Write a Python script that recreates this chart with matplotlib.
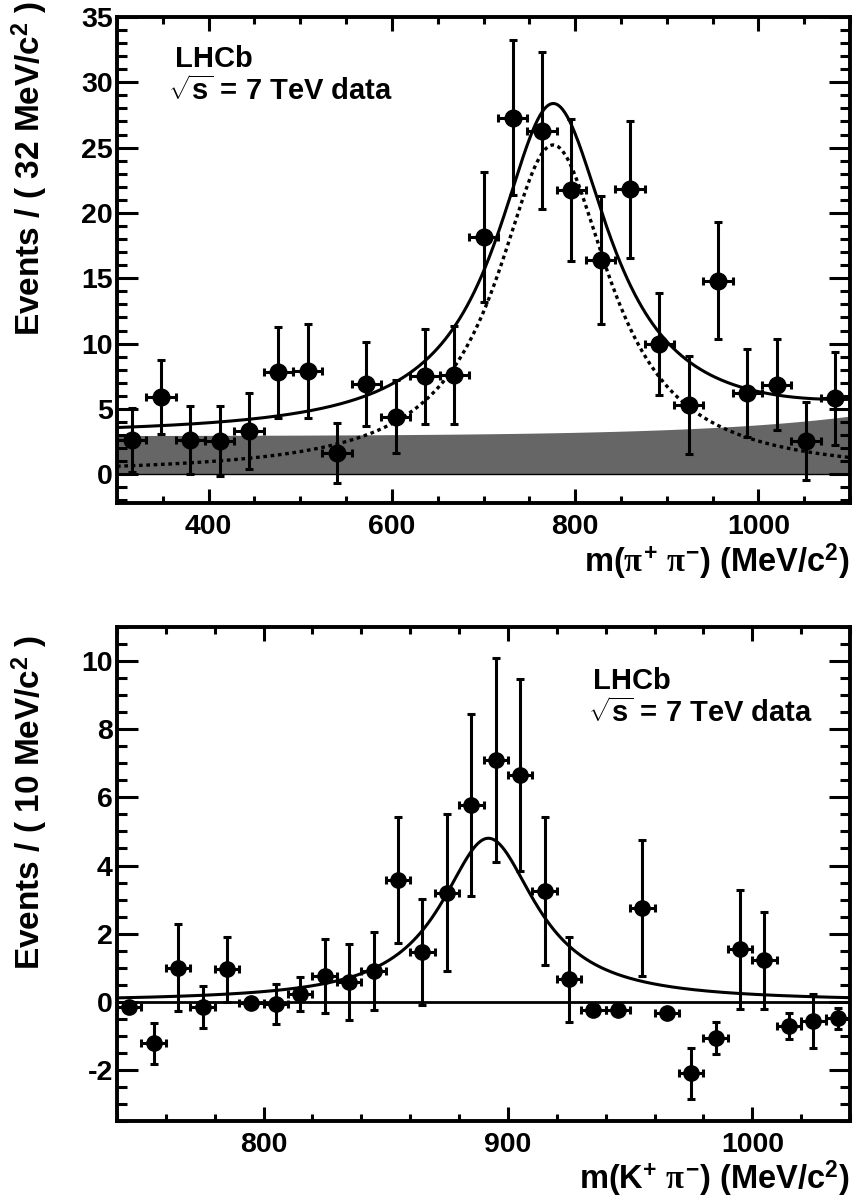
import matplotlib
matplotlib.use('Agg')

import numpy as np
import matplotlib.pyplot as plt
from matplotlib.ticker import MultipleLocator

# ROOT-like style
plt.rcParams['font.family'] = ['Liberation Sans', 'DejaVu Sans']
plt.rcParams['font.weight'] = 'bold'
plt.rcParams['axes.unicode_minus'] = False
plt.rcParams['mathtext.fontset'] = 'custom'
plt.rcParams['mathtext.rm'] = 'Liberation Sans:bold'
plt.rcParams['mathtext.bf'] = 'Liberation Sans:bold'
plt.rcParams['mathtext.it'] = 'Liberation Serif'   # thin greek letters like ROOT symbol font

## pi+ pi- spectrum (32 MeV bins)
pipi_mass = [316, 348, 380, 412, 444, 476, 508, 540, 572, 604, 636, 668, 700,
             732, 764, 796, 828, 860, 892, 924, 956, 988, 1020, 1052, 1084]
pipi_events = [2.6, 5.9, 2.65, 2.55, 3.3, 7.8, 7.9, 1.65, 6.9, 4.4, 7.5, 7.6, 18.15,
               27.3, 26.3, 21.75, 16.4, 21.8, 9.95, 5.3, 14.8, 6.2, 6.85, 2.55, 5.8]
pipi_err = [2.45, 2.82, 2.6, 2.7, 2.9, 3.5, 3.57, 2.3, 3.2, 2.8, 3.62, 3.77, 4.95,
            5.9, 6.0, 5.4, 4.9, 5.22, 3.9, 3.73, 4.47, 3.35, 3.5, 2.98, 3.58]
pipi_halfbin = 16

# fit model: rho Breit-Wigner + slowly rising background
rho_mass, rho_width, rho_peak = 776.0, 150.0, 25.2
bkg_flat, bkg_rise, bkg_scale = 2.95, 1.5, 170.0

## K+ pi- spectrum (10 MeV bins)
kpi_mass = [745, 755, 765, 775, 785, 795, 805, 815, 825, 835, 845, 855, 865, 875, 885,
            895, 905, 915, 925, 935, 945, 955, 965, 975, 985, 995, 1005, 1015, 1025, 1035]
kpi_events = [-0.15, -1.22, 1.0, -0.15, 0.95, -0.03, -0.07, 0.22, 0.75, 0.59, 0.91, 3.58,
              1.46, 3.2, 5.78, 7.1, 6.66, 3.25, 0.66, -0.24, -0.24, 2.75, -0.32, -2.1,
              -1.07, 1.54, 1.22, -0.71, -0.56, -0.49]
kpi_err = [0.1, 0.61, 1.28, 0.61, 0.95, 0.08, 0.58, 0.5, 1.09, 1.12, 1.15, 1.85, 1.56,
           2.3, 2.67, 3.0, 2.82, 2.18, 1.25, 0.1, 0.1, 2.0, 0.15, 0.75, 0.47, 1.75, 1.43,
           0.37, 0.8, 0.31]
kpi_halfbin = 5

kst_mass, kst_width, kst_peak = 892.0, 47.5, 4.8


def breit_wigner(m, m0, gamma, peak):
    return peak / (1.0 + (2.0 * (m - m0) / gamma) ** 2)


def background(m):
    return bkg_flat + bkg_rise * np.exp((m - 1100.0) / bkg_scale)


def style_axes(ax, xmaj, xmin, ymaj, ymin):
    for s in ax.spines.values():
        s.set_linewidth(2.8)
    ax.xaxis.set_major_locator(MultipleLocator(xmaj))
    ax.xaxis.set_minor_locator(MultipleLocator(xmin))
    ax.yaxis.set_major_locator(MultipleLocator(ymaj))
    ax.yaxis.set_minor_locator(MultipleLocator(ymin))
    ax.tick_params(which='both', direction='in', top=True, right=True, width=2.2)
    ax.tick_params(axis='x', which='major', length=10, pad=8, labelsize=20.5)
    ax.tick_params(axis='x', which='minor', length=5)
    ax.tick_params(axis='y', which='major', length=15, pad=3, labelsize=20.5)
    ax.tick_params(axis='y', which='minor', length=7.5)


fig = plt.figure(figsize=(8.56, 12.01), dpi=100)

# ---------------- top panel ----------------
ax1 = fig.add_axes([0.1367, 0.5812, 0.8563, 0.4047])
m = np.linspace(300, 1100, 600)
sig = breit_wigner(m, rho_mass, rho_width, rho_peak)
bkg = background(m)
ax1.fill_between(m, 0, bkg, color='#666666', lw=0, zorder=1)
ax1.axhline(0, color='black', lw=1.0, zorder=2)
ax1.plot(m, sig, color='black', lw=2.4, ls=(0, (1.1, 1.1)), zorder=3)
ax1.plot(m, sig + bkg, color='black', lw=2.2, zorder=3)
ax1.errorbar(pipi_mass, pipi_events, yerr=pipi_err, xerr=pipi_halfbin, fmt='o',
             color='black', ms=12, elinewidth=2.2, capsize=3.2, capthick=2.2, zorder=4)
ax1.set_xlim(300, 1100)
ax1.set_ylim(-2.2, 35)
style_axes(ax1, 200, 50, 5, 1)
ax1.text(0.079, 0.897, 'LHCb', transform=ax1.transAxes, fontsize=21, fontweight='bold')
ax1.text(0.070, 0.829, r'$\sqrt{\mathrm{s}}$ = 7 TeV data', transform=ax1.transAxes,
         fontsize=21, fontweight='bold')

fig.text(850 / 856, 1 - 572 / 1201, r'm($\pi^{+}$ $\pi^{-}$) (MeV/c$^{2}$)',
         ha='right', va='baseline', fontsize=23.5, fontweight='bold')
fig.text(30 / 856, 1 - 1 / 1201, r'Events / ( 32 MeV/c$^{2}$ )', rotation=90,
         ha='center', va='top', fontsize=24, fontweight='bold')

# ---------------- bottom panel ----------------
ax2 = fig.add_axes([0.1367, 0.0666, 0.8563, 0.4113])
mk = np.linspace(740, 1040, 600)
ax2.axhline(0, color='black', lw=2.0, zorder=2)
ax2.plot(mk, breit_wigner(mk, kst_mass, kst_width, kst_peak), color='black', lw=2.2, zorder=3)
ax2.errorbar(kpi_mass, kpi_events, yerr=kpi_err, xerr=kpi_halfbin, fmt='o',
             color='black', ms=11, elinewidth=2.2, capsize=3.2, capthick=2.2, zorder=4)
ax2.set_xlim(740, 1040)
ax2.set_ylim(-3.5, 11)
style_axes(ax2, 100, 20, 2, 0.5)
ax2.text(0.649, 0.8745, 'LHCb', transform=ax2.transAxes, fontsize=21, fontweight='bold')
ax2.text(0.642, 0.807, r'$\sqrt{\mathrm{s}}$ = 7 TeV data', transform=ax2.transAxes,
         fontsize=21, fontweight='bold')

fig.text(849 / 856, 1 - 1189 / 1201, r'm(K$^{+}$ $\pi^{-}$) (MeV/c$^{2}$)',
         ha='right', va='baseline', fontsize=23.5, fontweight='bold')
fig.text(30 / 856, 1 - 635 / 1201, r'Events / ( 10 MeV/c$^{2}$ )', rotation=90,
         ha='center', va='top', fontsize=24, fontweight='bold')

fig.savefig('out.png', dpi=100)
